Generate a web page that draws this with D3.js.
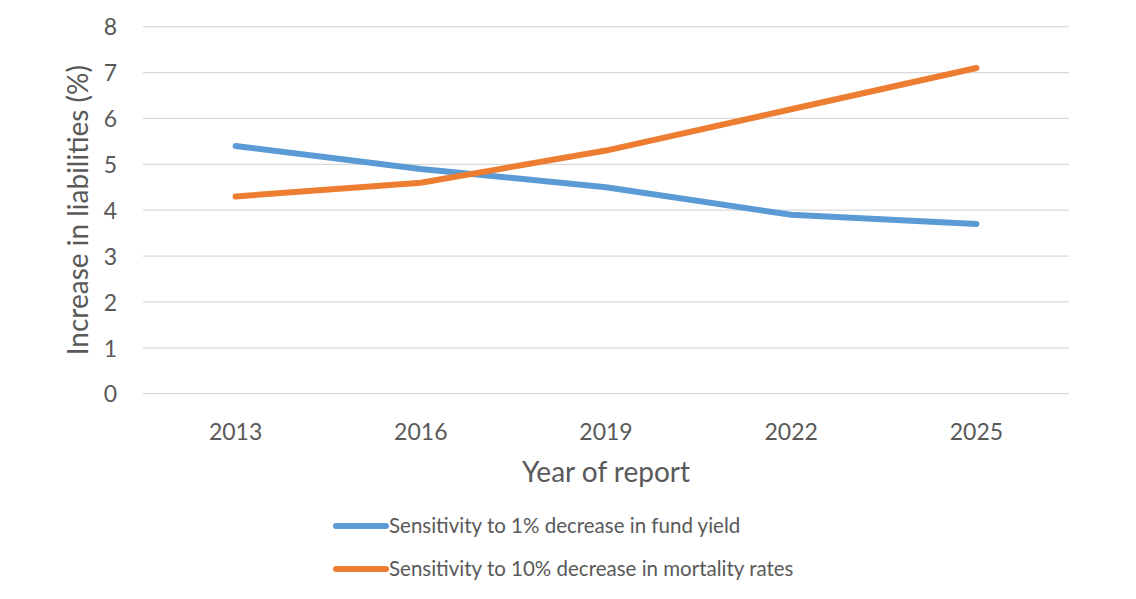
<!DOCTYPE html>
<html>
<head>
<meta charset="utf-8">
<script src="https://cdn.jsdelivr.net/npm/d3@7/dist/d3.min.js"></script>
<style>
  body { margin: 0; background: #fff; }
  text { font-family: Lato, "Open Sans", sans-serif; fill: #595959; }
</style>
</head>
<body>
<svg id="chart" width="1136" height="599"></svg>
<script>
// chart data
var years = ["2013", "2016", "2019", "2022", "2025"];
var fundYield = [5.4, 4.9, 4.5, 3.9, 3.7];
var mortality = [4.3, 4.6, 5.3, 6.2, 7.1];
var yTicks = [0, 1, 2, 3, 4, 5, 6, 7, 8];
var seriesNames = ["Sensitivity to 1% decrease in fund yield",
                   "Sensitivity to 10% decrease in mortality rates"];
var seriesColors = ["#5b9bd5", "#ed7d31"];

var svg = d3.select("#chart");
var plotL = 143, plotR = 1069, plotT = 26.7, plotB = 393.7;

var x = d3.scaleBand().domain(years).range([plotL, plotR]);
var y = d3.scaleLinear().domain([0, 8]).range([plotB, plotT]);

// gridlines
svg.append("g")
  .selectAll("line")
  .data(yTicks)
  .enter()
  .append("line")
  .attr("x1", plotL)
  .attr("x2", plotR)
  .attr("y1", function(d){ return y(d); })
  .attr("y2", function(d){ return y(d); })
  .attr("stroke", "#d9d9d9")
  .attr("stroke-width", 1.3);

// y tick labels
var yAxis = svg.append("g")
  .attr("transform", "translate(" + (plotL - 26) + ",0)")
  .call(d3.axisLeft(y).tickValues(yTicks).tickSize(0).tickPadding(0));
yAxis.select(".domain").remove();
yAxis.selectAll("text")
  .style("font-size", "23px")
  .attr("dy", "0.36em");

// x tick labels
var xAxis = svg.append("g")
  .attr("transform", "translate(0," + plotB + ")")
  .call(d3.axisBottom(x).tickSize(0).tickPadding(0));
xAxis.select(".domain").remove();
xAxis.selectAll("text")
  .style("font-size", "23px")
  .attr("y", 46)
  .attr("dy", 0);

// axis titles
svg.append("text")
  .attr("transform", "translate(88," + ((plotT + plotB) / 2) + ") rotate(-90)")
  .attr("text-anchor", "middle")
  .style("font-size", "28px")
  .text("Increase in liabilities (%)");

svg.append("text")
  .attr("x", (plotL + plotR) / 2)
  .attr("y", 482)
  .attr("text-anchor", "middle")
  .style("font-size", "28px")
  .text("Year of report");

// lines
var line = d3.line()
  .x(function(d, i){ return x(years[i]) + x.bandwidth() / 2; })
  .y(function(d){ return y(d); });

[fundYield, mortality].forEach(function(vals, k){
  svg.append("path")
    .datum(vals)
    .attr("d", line)
    .attr("fill", "none")
    .attr("stroke", seriesColors[k])
    .attr("stroke-width", 6)
    .attr("stroke-linecap", "round")
    .attr("stroke-linejoin", "round");
});

// legend
var legend = svg.append("g")
  .selectAll("g")
  .data(seriesNames)
  .enter()
  .append("g")
  .attr("transform", function(d, i){ return "translate(336," + (526 + i * 43) + ")"; });

legend.append("line")
  .attr("x1", 0)
  .attr("x2", 50)
  .attr("stroke", function(d, i){ return seriesColors[i]; })
  .attr("stroke-width", 6)
  .attr("stroke-linecap", "round");

legend.append("text")
  .attr("x", 53)
  .attr("dy", "0.36em")
  .style("font-size", "20.5px")
  .text(function(d){ return d; });
</script>
</body>
</html>
